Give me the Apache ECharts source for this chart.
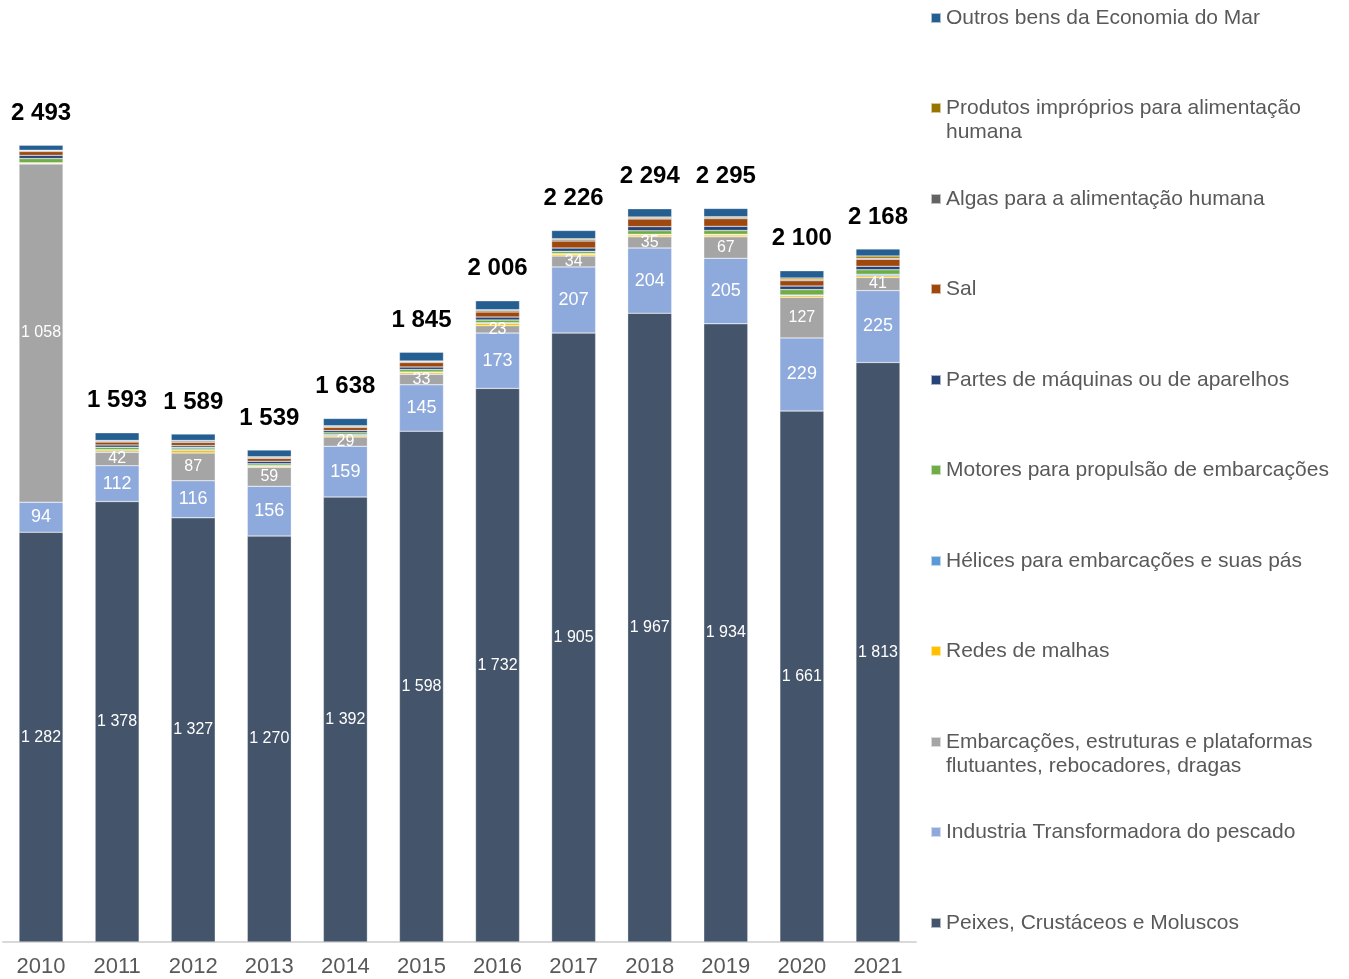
<!DOCTYPE html>
<html>
<head>
<meta charset="utf-8">
<script src="https://cdn.jsdelivr.net/npm/echarts@6/dist/echarts.min.js"></script>
<style>
html,body{margin:0;padding:0;background:#fff;}
#chart{width:1349px;height:979px;}
</style>
</head>
<body>
<div id="chart"></div>
<script>
const years = ['2010','2011','2012','2013','2014','2015','2016','2017','2018','2019','2020','2021'];
const peixes    = [1282,1378,1327,1270,1392,1598,1732,1905,1967,1934,1661,1813];
const industria = [94,112,116,156,159,145,173,207,204,205,229,225];
const embarc    = [1058,42,87,59,29,33,23,34,35,67,127,41];
const redes     = [2,5,8,3,4,5,7,6,6,6,5,5];
const helices   = [2,3,4,3,3,2,2,2,2,2,2,5];
const motores   = [13,8,6,5,6,8,9,7,11,12,17,14];
const partes    = [10,7,5,8,7,8,9,10,13,13,11,11];
const sal       = [12,9,10,9,10,14,16,22,24,24,17,22];
const algas     = [3,3,4,3,3,3,4,4,3,3,3,3];
const produtos  = [1,2,2,2,2,2,3,3,3,3,5,7];
const outros    = [16,24,20,21,23,27,28,26,26,26,23,22];

const seriesNames = [
  'Peixes, Crustáceos e Moluscos',
  'Industria Transformadora do pescado',
  'Embarcações, estruturas e plataformas\nflutuantes, rebocadores, dragas',
  'Redes de malhas',
  'Hélices para embarcações e suas pás',
  'Motores para propulsão de embarcações',
  'Partes de máquinas ou de aparelhos',
  'Sal',
  'Algas para a alimentação humana',
  'Produtos impróprios para alimentação\nhumana',
  'Outros bens da Economia do Mar'
];
const seriesData = [peixes, industria, embarc, redes, helices, motores, partes, sal, algas, produtos, outros];
const colors = ['#44546A','#8EA9DB','#A5A5A5','#FFC000','#5B9BD5','#70AD47','#264478','#9E480E','#636363','#997300','#255E91'];

const totals = years.map((_, i) => seriesData.reduce((s, arr) => s + arr[i], 0));
const fmt = n => String(n).replace(/\B(?=(\d{3})+(?!\d))/g, ' ');

const labelSizes = [16, 18, 16];

const series = seriesData.map((arr, k) => {
  const s = {
    name: seriesNames[k],
    type: 'bar',
    stack: 'total',
    barWidth: 44,
    data: arr,
    itemStyle: { color: colors[k], borderColor: 'rgba(255,255,255,0.6)', borderWidth: 0.5 },
    emphasis: { disabled: true }
  };
  if (k < 3) {
    s.label = {
      show: true, position: 'inside', color: '#fff',
      fontFamily: 'Liberation Sans, Arial, sans-serif',
      fontSize: labelSizes[k],
      formatter: p => fmt(p.value)
    };
  }
  if (k === seriesData.length - 1) {
    s.label = {
      show: true, position: 'top', distance: 20, color: '#000',
      fontFamily: 'Liberation Sans, Arial, sans-serif',
      fontSize: 24, fontWeight: 'bold',
      formatter: p => fmt(totals[p.dataIndex])
    };
  }
  return s;
});

const legendOrder = [10, 9, 8, 7, 6, 5, 4, 3, 2, 1, 0];
const legendCenters = [18, 108, 199, 289, 380, 470, 561, 651, 742, 832, 923];
const legends = legendOrder.map((k, j) => {
  const twoLine = seriesNames[k].indexOf('\n') >= 0;
  return {
    data: [seriesNames[k]],
    left: 930,
    top: twoLine ? legendCenters[j] - 36 : legendCenters[j] - 12,
    orient: 'vertical',
    padding: 0,
    itemWidth: 10,
    itemHeight: 10,
    icon: 'rect',
    selectedMode: false,
    formatter: twoLine ? (name => ' \n' + name) : undefined,
    textStyle: {
      color: '#595959',
      fontSize: 21,
      lineHeight: 24,
      fontFamily: 'Liberation Sans, Arial, sans-serif'
    }
  };
});

const chart = echarts.init(document.getElementById('chart'), null, { renderer: 'canvas' });
chart.setOption({
  backgroundColor: '#fff',
  animation: false,
  color: colors,
  legend: legends,
  grid: { left: 3, right: 433, top: 47, bottom: 37, containLabel: false },
  xAxis: {
    type: 'category',
    data: years,
    axisLine: { show: true, lineStyle: { color: '#D9D9D9', width: 2 } },
    axisTick: { show: false },
    axisLabel: {
      color: '#595959', fontSize: 22, margin: 14,
      fontFamily: 'Liberation Sans, Arial, sans-serif'
    }
  },
  yAxis: {
    type: 'value', min: 0, max: 2800,
    show: false,
    splitLine: { show: false }
  },
  series: series
});
</script>
</body>
</html>
